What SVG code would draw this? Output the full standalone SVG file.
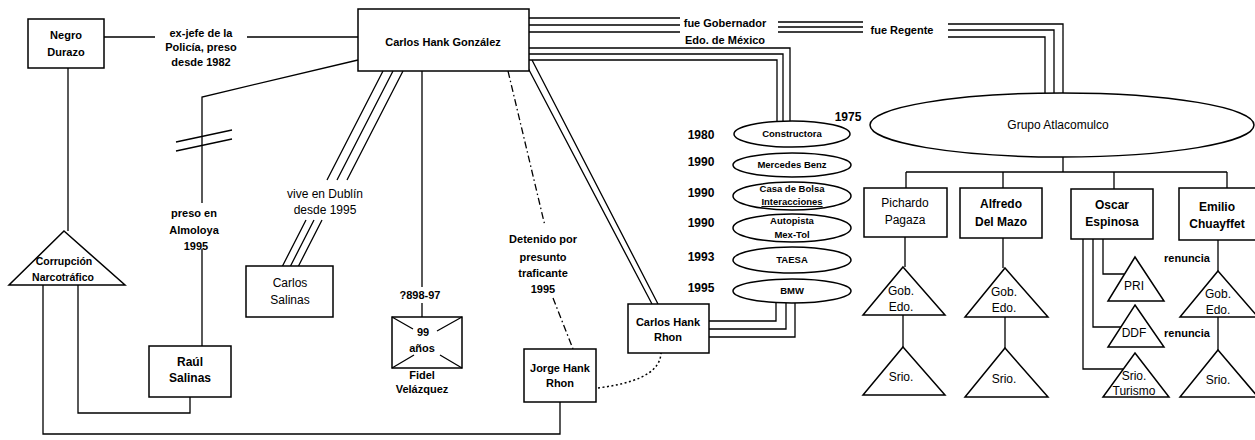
<svg xmlns="http://www.w3.org/2000/svg" width="1255" height="440" viewBox="0 0 1255 440">
<style>
text{font-family:"Liberation Sans",Arial,sans-serif;fill:#000;text-anchor:middle}
.b{font-size:11px;font-weight:bold}
.t{font-size:12px}
.s{font-size:9.5px;font-weight:bold}
.y{font-size:12px;font-weight:bold}
.n{fill:#fff;stroke:#000;stroke-width:1.5}
.c{fill:none;stroke:#000;stroke-width:1.3}
.dd{fill:none;stroke:#000;stroke-width:1.3;stroke-dasharray:7 3 1.5 3}
.dt{fill:none;stroke:#000;stroke-width:1.5;stroke-dasharray:2 2.5}
</style>
<rect width="1255" height="440" fill="#fff"/>
<g id="connectors">
  <path class="c" d="M104,37H155M247,37H358"/>
  <path class="c" d="M68,68V231"/>
  <path class="c" d="M358,60L202,97V203M202,249V346"/>
  <path class="c" d="M176,142L232,130M176,151L232,139"/>
  <path class="c" d="M78,285V413H190V397"/>
  <path class="c" d="M43,285V434H560V402"/>
  <path class="c" d="M383,71L327,180M393,71L337,180M403,71L347,180"/>
  <path class="c" d="M306,220L282,267M314,220L290,267M322,220L298,267"/>
  <path class="c" d="M422,71V287M422,303V317"/>
  <path class="dd" d="M508,71L545,226M553,298L573,349"/>
  <path class="dt" d="M598,388C628,384 660,376 661,353"/>
  <path class="c" d="M528,68L652,304M532,60L658,304"/>
  <path class="c" d="M529,18H680M529,25H680M529,32H680"/>
  <path class="c" d="M778,22H863M778,27H863M778,32H863"/>
  <path class="c" d="M948,24H1063V93M948,30H1054V93M948,37H1045V93"/>
  <path class="c" d="M529,48H790V121M529,54H783V121M529,60H777V121"/>
  <path class="c" d="M776,303V321H709M786,303V329H709M795,303V337H709"/>
  <path class="c" d="M1063,157V172M906,172H1227M906,172V188M1003,172V188M1114,172V189M1227,172V188"/>
  <path class="c" d="M905,237V267M903,315V347"/>
  <path class="c" d="M1003,238V268M1005,317V348"/>
  <path class="c" d="M1103,239V274H1124M1093,239V327H1121M1083,239V369H1123"/>
  <path class="c" d="M1218,240V271M1218,317V350"/>
</g>
<g id="labels">
  <text class="b" x="201" y="37">ex-jefe de la</text>
  <text class="b" x="201" y="51">Policía, preso</text>
  <text class="b" x="201" y="66">desde 1982</text>
  <text class="b" x="194" y="217">preso en</text>
  <text class="b" x="194" y="234">Almoloya</text>
  <text class="b" x="196" y="250">1995</text>
  <text class="t" x="325" y="198">vive en Dublín</text>
  <text class="t" x="325" y="214">desde 1995</text>
  <text class="b" x="420" y="299">?898-97</text>
  <text class="b" x="543" y="243">Detenido por</text>
  <text class="b" x="543" y="261">presunto</text>
  <text class="b" x="543" y="277">traficante</text>
  <text class="b" x="543" y="293">1995</text>
  <text class="b" x="725" y="27">fue Gobernador</text>
  <text class="b" x="725" y="44">Edo. de México</text>
  <text class="b" x="902" y="34">fue Regente</text>
  <text class="y" x="848" y="121">1975</text>
  <text class="y" x="701" y="139">1980</text>
  <text class="y" x="701" y="166">1990</text>
  <text class="y" x="701" y="197">1990</text>
  <text class="y" x="701" y="227">1990</text>
  <text class="y" x="701" y="261">1993</text>
  <text class="y" x="701" y="292">1995</text>
  <text class="b" x="1187" y="262">renuncia</text>
  <text class="b" x="1187" y="337">renuncia</text>
</g>
<g id="negro-durazo">
  <rect class="n" x="28" y="19" width="76" height="49"/>
  <text class="b" x="66" y="39">Negro</text>
  <text class="b" x="66" y="56">Durazo</text>
</g>
<g id="carlos-hank-gonzalez">
  <rect class="n" x="358" y="9" width="171" height="62"/>
  <text class="b" x="443" y="46">Carlos Hank González</text>
</g>
<g id="corrupcion">
  <polygon class="n" points="64,231 125,285 9,285"/>
  <text class="b" x="64" y="265" style="font-size:10.5px">Corrupción</text>
  <text class="b" x="63" y="281" style="font-size:10.5px">Narcotráfico</text>
</g>
<g id="raul-salinas">
  <rect class="n" x="149" y="346" width="82" height="51"/>
  <text class="y" x="190" y="366">Raúl</text>
  <text class="y" x="190" y="382">Salinas</text>
</g>
<g id="carlos-salinas">
  <rect class="n" x="246" y="266" width="87" height="51"/>
  <text class="t" x="290" y="287">Carlos</text>
  <text class="t" x="290" y="304">Salinas</text>
</g>
<g id="fidel-velazquez">
  <rect class="n" x="392" y="317" width="70" height="51"/>
  <path class="c" d="M392,317L413,329M462,317L437,331M392,368L414,355M462,368L440,355"/>
  <text class="b" x="423" y="336">99</text>
  <text class="b" x="422" y="352">años</text>
  <text class="b" x="422" y="379">Fidel</text>
  <text class="b" x="422" y="393">Velázquez</text>
</g>
<g id="jorge-hank-rhon">
  <rect class="n" x="524" y="349" width="72" height="53"/>
  <text class="b" x="560" y="372">Jorge Hank</text>
  <text class="b" x="560" y="387">Rhon</text>
</g>
<g id="carlos-hank-rhon">
  <rect class="n" x="628" y="304" width="81" height="49"/>
  <text class="b" x="668" y="326">Carlos Hank</text>
  <text class="b" x="668" y="341">Rhon</text>
</g>
<g id="constructora">
  <ellipse class="n" cx="792" cy="134" rx="58" ry="13"/>
  <text class="s" x="792" y="137">Constructora</text>
</g>
<g id="mercedes-benz">
  <ellipse class="n" cx="792" cy="165" rx="59" ry="12"/>
  <text class="s" x="792" y="168">Mercedes Benz</text>
</g>
<g id="casa-de-bolsa">
  <ellipse class="n" cx="792" cy="196" rx="59" ry="14"/>
  <text class="s" x="792" y="192">Casa de Bolsa</text>
  <text class="s" x="792" y="205" style="text-decoration:underline">Interacciones</text>
</g>
<g id="autopista">
  <ellipse class="n" cx="792" cy="228" rx="59" ry="14"/>
  <text class="s" x="792" y="224">Autopista</text>
  <text class="s" x="792" y="238">Mex-Tol</text>
</g>
<g id="taesa">
  <ellipse class="n" cx="792" cy="260" rx="59" ry="13"/>
  <text class="s" x="792" y="263">TAESA</text>
</g>
<g id="bmw">
  <ellipse class="n" cx="792" cy="291" rx="59" ry="12"/>
  <text class="s" x="792" y="294">BMW</text>
</g>
<g id="grupo-atlacomulco">
  <ellipse class="n" cx="1062" cy="125" rx="192" ry="32"/>
  <text class="t" x="1058" y="129">Grupo Atlacomulco</text>
</g>
<g id="pichardo-pagaza">
  <rect class="n" x="864" y="188" width="83" height="49"/>
  <text class="t" x="905" y="207">Pichardo</text>
  <text class="t" x="905" y="224">Pagaza</text>
</g>
<g id="alfredo-del-mazo">
  <rect class="n" x="960" y="188" width="82" height="50"/>
  <text class="y" x="1001" y="208">Alfredo</text>
  <text class="y" x="1001" y="226">Del Mazo</text>
</g>
<g id="oscar-espinosa">
  <rect class="n" x="1071" y="189" width="82" height="50"/>
  <text class="y" x="1112" y="209">Oscar</text>
  <text class="y" x="1112" y="226">Espinosa</text>
</g>
<g id="emilio-chuayffet">
  <rect class="n" x="1179" y="188" width="80" height="52"/>
  <text class="y" x="1217" y="211">Emilio</text>
  <text class="y" x="1217" y="228">Chuayffet</text>
</g>
<g id="pichardo-gob">
  <polygon class="n" points="903,267 945,315 863,315"/>
  <text class="t" x="901" y="295">Gob.</text>
  <text class="t" x="901" y="311">Edo.</text>
</g>
<g id="pichardo-srio">
  <polygon class="n" points="903,347 945,395 863,395"/>
  <text class="t" x="901" y="381">Srio.</text>
</g>
<g id="alfredo-gob">
  <polygon class="n" points="1005,268 1048,317 965,317"/>
  <text class="t" x="1004" y="296">Gob.</text>
  <text class="t" x="1004" y="312">Edo.</text>
</g>
<g id="alfredo-srio">
  <polygon class="n" points="1005,348 1048,397 965,397"/>
  <text class="t" x="1004" y="383">Srio.</text>
</g>
<g id="oscar-pri">
  <polygon class="n" points="1135,257 1164,301 1108,301"/>
  <text class="t" x="1134" y="290">PRI</text>
</g>
<g id="oscar-ddf">
  <polygon class="n" points="1135,305 1164,347 1108,347"/>
  <text class="t" x="1134" y="337">DDF</text>
</g>
<g id="oscar-srio-turismo">
  <polygon class="n" points="1135,353 1169,397 1103,397"/>
  <text class="t" x="1134" y="380">Srio.</text>
  <text class="t" x="1134" y="395">Turismo</text>
</g>
<g id="emilio-gob">
  <polygon class="n" points="1218,271 1258,317 1180,317"/>
  <text class="t" x="1218" y="298">Gob.</text>
  <text class="t" x="1218" y="314">Edo.</text>
</g>
<g id="emilio-srio">
  <polygon class="n" points="1218,350 1258,397 1180,397"/>
  <text class="t" x="1218" y="384">Srio.</text>
</g>
</svg>
